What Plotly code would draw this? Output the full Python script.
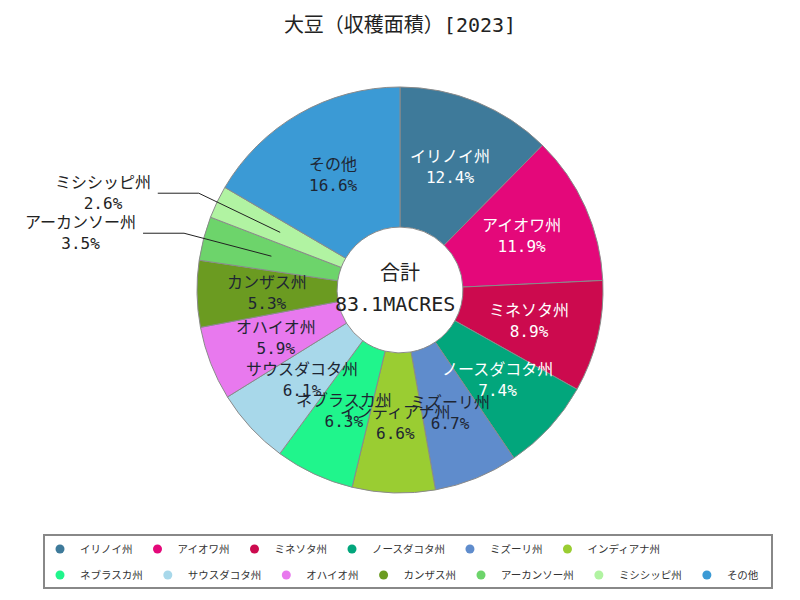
import math
import plotly.graph_objects as go

# ---- data ----
categories = ["イリノイ州", "アイオワ州", "ミネソタ州", "ノースダコタ州", "ミズーリ州",
              "インディアナ州", "ネブラスカ州", "サウスダコタ州", "オハイオ州", "カンザス州",
              "アーカンソー州", "ミシシッピ州", "その他"]
shares = [12.4, 11.9, 8.9, 7.4, 6.7, 6.6, 6.3, 6.1, 5.9, 5.3, 3.5, 2.6, 16.6]
total_value = 83.1
total_unit = "MACRES"
title_text = "大豆（収穫面積）[2023]"

colors = ["#3e7a9a", "#e4087a", "#cc0a4e", "#02a67c", "#5f8ccc", "#9acd32",
          "#20f58c", "#a8d8ea", "#e879ee", "#6b9b21", "#6dd46b", "#b1f3a2", "#3b9ad5"]
label_colors = ["#ffffff"] * 4 + ["#1e2633"] * 9
outside = {"アーカンソー州", "ミシシッピ州"}
legend_row1_count = 6

W, H = 800, 600
CX, CY, R = 400, 290, 203
HOLE = 0.31
FONT = "DejaVu Sans Mono, Noto Sans CJK JP"

fig = go.Figure()
fig.add_trace(go.Pie(
    labels=categories, values=shares, sort=False, direction="clockwise",
    rotation=0, hole=HOLE, textinfo="none", hoverinfo="label+percent",
    marker=dict(colors=colors, line=dict(color="#8a8a8a", width=1)),
    domain=dict(x=[(CX - R) / W, (CX + R) / W], y=[1 - (CY + R) / H, 1 - (CY - R) / H]),
    showlegend=False,
))

# legend entries with circle symbols (two rows = two legends)
for i, (c, col) in enumerate(zip(categories, colors)):
    fig.add_trace(go.Scatter(x=[None], y=[None], mode="markers", name=c,
                             legend="legend" if i < legend_row1_count else "legend2",
                             marker=dict(color=col, size=9, symbol="circle")))


def to_paper(px, py):
    return px / W, 1 - py / H


annotations = []
shapes = []
tot = sum(shares)
cum = 0.0
for c, v, tc in zip(categories, shares, label_colors):
    mid = (cum + v / 2) / tot * 2 * math.pi
    cum += v
    s, co = math.sin(mid), math.cos(mid)
    txt = f"{c}<br>{v:.1f}%"
    if c in outside:
        r_in, r_out = 0.655 * R, 1.1 * R
        p1 = (CX + r_in * s, CY - r_in * co)
        p2 = (CX + r_out * s, CY - r_out * co)
        p3 = (p2[0] - 41, p2[1])
        for a, b in ((p1, p2), (p2, p3)):
            x0, y0 = to_paper(*a)
            x1, y1 = to_paper(*b)
            shapes.append(dict(type="line", xref="paper", yref="paper",
                               x0=x0, y0=y0, x1=x1, y1=y1,
                               line=dict(color="#222222", width=1)))
        tx, ty = to_paper(p3[0] - 5, p3[1])
        annotations.append(dict(x=tx, y=ty, xref="paper", yref="paper", text=txt,
                                showarrow=False, xanchor="right", yanchor="middle",
                                align="center", font=dict(family=FONT, size=16, color="#222222")))
    else:
        r = 0.655 * R
        tx, ty = to_paper(CX + r * s, CY - r * co)
        annotations.append(dict(x=tx, y=ty, xref="paper", yref="paper", text=txt,
                                showarrow=False, xanchor="center", yanchor="middle",
                                align="center", font=dict(family=FONT, size=16, color=tc)))

# center text
x0, y0 = to_paper(CX, CY - 17)
annotations.append(dict(x=x0, y=y0, xref="paper", yref="paper", text="合計", showarrow=False,
                        xanchor="center", yanchor="middle", font=dict(family=FONT, size=20, color="#222222")))
x0, y0 = to_paper(CX - 5, CY + 14)
annotations.append(dict(x=x0, y=y0, xref="paper", yref="paper", text=f"{total_value}{total_unit}",
                        showarrow=False, xanchor="center", yanchor="middle",
                        font=dict(family=FONT, size=20, color="#222222")))

# legend frame
bx0, by0 = to_paper(44, 535)
bx1, by1 = to_paper(772, 588)
shapes.append(dict(type="rect", xref="paper", yref="paper", x0=bx0, y0=by0, x1=bx1, y1=by1,
                   line=dict(color="#888888", width=2), fillcolor="rgba(0,0,0,0)", layer="below"))

leg_font = dict(family="Noto Sans CJK JP", size=10.5, color="#333333")
lx, ly1 = to_paper(40, 549)
_, ly2 = to_paper(40, 575)

fig.update_layout(
    width=W, height=H, paper_bgcolor="white", plot_bgcolor="white",
    margin=dict(l=0, r=0, t=0, b=0),
    title=dict(text=title_text, x=0.5, xanchor="center", y=1 - 25 / H, yanchor="middle",
               font=dict(family=FONT, size=20, color="#222222")),
    xaxis=dict(visible=False), yaxis=dict(visible=False),
    showlegend=True,
    legend=dict(orientation="h", x=lx, xanchor="left", y=ly1, yanchor="middle",
                borderwidth=0, bgcolor="rgba(0,0,0,0)", font=leg_font, itemwidth=30),
    legend2=dict(orientation="h", x=lx, xanchor="left", y=ly2, yanchor="middle",
                 borderwidth=0, bgcolor="rgba(0,0,0,0)", font=leg_font, itemwidth=30),
    annotations=annotations, shapes=shapes,
)

fig.write_html("out.html")
